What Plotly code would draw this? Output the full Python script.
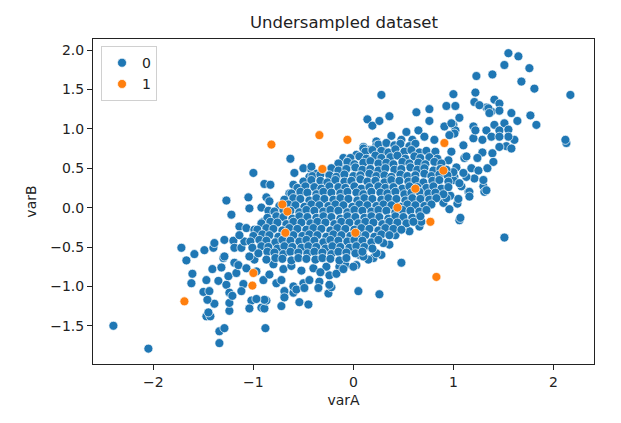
import plotly.graph_objects as go

# class 0, outer / sparse points
blue_sparse = [
    (1.55, 1.96), (1.65, 1.92), (1.51, 1.81), (1.76, 1.77), (1.23, 1.67), (1.39, 1.69), (1.68, 1.60),
    (1.81, 1.51), (2.17, 1.43), (0.28, 1.43), (1.00, 1.44), (1.22, 1.46), (1.21, 1.34), (0.93, 1.29),
    (1.02, 1.29), (0.76, 1.25), (0.63, 1.21), (0.36, 1.16), (0.14, 1.12), (0.19, 1.04), (0.26, 1.10),
    (0.76, 1.10), (0.91, 1.03), (1.00, 1.05), (1.06, 1.14), (1.41, 1.37), (1.46, 1.32), (1.33, 1.27),
    (1.26, 1.30), (1.38, 1.22), (1.46, 1.23), (1.58, 1.20), (1.77, 1.17), (1.83, 1.05), (1.64, 1.10),
    (1.51, 1.07), (1.41, 1.05), (1.33, 0.98), (1.20, 1.03), (1.29, 0.86), (1.20, 0.88), (1.38, 0.90),
    (1.46, 0.98), (1.55, 0.99), (1.61, 0.86), (1.53, 0.78), (1.46, 0.77), (1.39, 0.69), (1.29, 0.70),
    (1.24, 0.63), (1.40, 0.58), (1.34, 0.50), (1.21, 0.37), (1.30, 0.27), (1.31, 0.20), (1.11, 0.63),
    (1.10, 0.79), (1.13, 0.39), (1.18, 0.50), (1.03, 0.51), (1.01, 0.39), (1.08, 0.27), (1.15, 0.20),
    (2.13, 0.82), (2.12, 0.86), (0.53, 0.96), (0.65, 0.98), (0.48, 0.86), (0.23, 0.84), (0.30, 0.79),
    (0.10, 0.77), (0.16, 0.73), (1.35, 1.26), (1.36, 1.20), (1.22, 0.98), (1.02, 0.98), (0.98, 1.07),
    (1.01, 0.94), (0.96, 0.92), (1.55, 0.90), (1.46, 0.90), (1.58, 0.75), (0.59, 0.86), (0.71, 0.90),
    (0.81, 0.86), (0.38, 0.91), (0.98, 0.71), (1.13, 0.65), (1.00, 0.35), (1.10, 0.44), (1.16, 0.20),
    (0.95, 0.60), (1.00, 0.45), (0.97, 0.15), (1.04, 0.05), (1.06, 0.31), (1.30, 0.35), (1.33, 0.22),
    (1.16, 0.14), (1.25, 0.47),
    (0.96, -0.02), (1.05, 0.11), (0.90, 0.06), (0.93, 0.12), (1.06, -0.16), (1.07, -0.13), (0.56, -0.30),
    (0.66, -0.24), (0.68, -0.18), (0.55, -0.16), (0.64, 0.01), (0.53, 0.03), (0.78, 0.14), (0.70, 0.16),
    (1.51, -0.38), (0.48, -0.70), (0.05, -1.06), (0.26, -1.10), (0.28, -0.60), (0.20, -0.64),
    (0.36, -0.47), (0.30, -0.45), (0.42, -0.35), (0.48, -0.28), (0.06, -0.60), (0.03, -0.73),
    (-0.08, -0.73), (-0.14, -0.75),
    (-2.40, -1.50), (-2.05, -1.79), (-1.34, -1.72), (-1.34, -1.57), (-1.29, -1.53), (-0.88, -1.53),
    (-1.47, -1.38), (-1.43, -1.38), (-1.45, -1.33), (-1.24, -1.31), (-1.24, -1.21), (-1.39, -1.22),
    (-1.46, -1.17), (-1.50, -1.07), (-1.44, -1.06), (-1.62, -0.96), (-1.61, -0.84), (-1.67, -0.67),
    (-1.59, -0.59), (-1.72, -0.51), (-1.49, -0.54), (-1.40, -0.51), (-1.39, -0.45), (-1.29, -0.41),
    (-1.20, -0.42), (-1.47, -0.92), (-1.35, -0.93), (-1.27, -0.98), (-1.24, -1.08), (-1.21, -1.12),
    (-1.41, -0.78), (-1.32, -0.76), (-1.30, -0.64), (-1.25, -0.87), (-1.17, -0.83), (-1.10, -0.97),
    (-1.12, -1.06), (-1.02, -1.18), (-1.04, -1.28), (-0.92, -1.27), (-0.89, -1.28), (-0.87, -1.18),
    (-0.72, -1.25), (-0.69, -1.13), (-0.60, -1.08), (-0.54, -1.20), (-0.45, -1.23), (-0.25, -1.09),
    (-0.22, -1.01),
    (-1.27, 0.09), (-1.05, 0.13), (-0.87, 0.13), (-0.84, 0.08), (-1.22, -0.09), (-1.04, -0.01),
    (-0.92, 0.00), (-0.85, -0.04), (-1.14, -0.24), (-1.07, -0.26), (-0.99, -0.28), (-0.90, -0.18),
    (-1.29, -0.62), (-1.19, -0.70), (-1.15, -0.73), (-1.07, -0.77), (-0.99, -0.66), (-1.19, -0.51),
    (-1.12, -0.51), (-1.09, -0.43), (-1.04, -0.62), (-1.14, -0.35),
    (-0.97, -0.81), (-0.90, -0.92), (-0.84, -0.85), (-0.77, -0.96), (-0.72, -0.92), (-0.60, -1.00),
    (-0.69, -1.06), (-0.57, -1.04), (-0.50, -0.96), (-0.44, -0.92), (-0.34, -0.94), (-0.24, -0.98),
    (-0.49, -1.02), (-0.35, -1.02), (-0.24, -0.86), (-0.17, -0.84), (-0.27, -0.75), (0.00, -0.75),
    (0.15, -0.66), (0.23, -0.58), (-0.69, -1.14), (-0.89, -1.17), (-0.97, -1.16),
    (-0.80, -0.72), (-0.70, -0.78), (-0.62, -0.74), (-0.52, -0.80), (-0.40, -0.77), (-0.33, -0.82),
    (-0.10, -0.78), (0.10, -0.62),
    (-0.63, 0.62), (-1.00, 0.44), (-0.89, 0.30), (-0.83, 0.29), (-0.59, 0.44), (-0.50, 0.50),
    (-0.42, 0.48), (-0.44, 0.39), (-0.37, 0.43), (-0.24, 0.41), (-0.14, 0.52), (-0.10, 0.63),
    (-0.19, 0.39), (-0.60, 0.29), (-0.64, 0.18), (-0.54, 0.18), (-0.44, 0.31), (-0.37, 0.23),
    (-0.42, 0.52), (-0.14, 0.54), (-0.05, 0.60), (0.03, 0.67), (0.00, 0.52), (0.10, 0.75), (0.23, 0.79),
]

# class 0, dense middle of the cloud, row by row
blue_core = [
    (0.25, 0.80), (0.33, 0.82), (0.41, 0.79), (0.47, 0.81), (0.56, 0.78), (0.62, 0.81),
    (0.12, 0.71), (0.19, 0.73), (0.28, 0.72), (0.35, 0.70), (0.42, 0.74), (0.51, 0.71), (0.58, 0.73),
    (0.66, 0.70), (0.73, 0.72), (0.82, 0.71),
    (-0.03, 0.63), (0.06, 0.65), (0.13, 0.62), (0.22, 0.66), (0.28, 0.63), (0.37, 0.64), (0.44, 0.66),
    (0.52, 0.62), (0.61, 0.65), (0.67, 0.63), (0.76, 0.64), (0.84, 0.62),
    (-0.15, 0.56), (-0.06, 0.58), (0.01, 0.55), (0.10, 0.57), (0.17, 0.59), (0.25, 0.56), (0.33, 0.57),
    (0.40, 0.55), (0.49, 0.58), (0.56, 0.56), (0.65, 0.57), (0.72, 0.55), (0.81, 0.58), (0.88, 0.56),
    (-0.31, 0.48), (-0.22, 0.50), (-0.15, 0.47), (-0.07, 0.49), (0.02, 0.51), (0.09, 0.48), (0.17, 0.49),
    (0.25, 0.47), (0.32, 0.50), (0.41, 0.48), (0.48, 0.49), (0.57, 0.51), (0.64, 0.48), (0.71, 0.50),
    (0.80, 0.47), (0.87, 0.49), (0.93, 0.48),
    (-0.41, 0.40), (-0.33, 0.42), (-0.24, 0.41), (-0.17, 0.39), (-0.09, 0.42), (0.00, 0.40), (0.07, 0.41),
    (0.16, 0.43), (0.23, 0.40), (0.31, 0.41), (0.38, 0.39), (0.47, 0.42), (0.54, 0.40), (0.62, 0.41),
    (0.71, 0.43), (0.78, 0.40), (0.86, 0.42), (0.94, 0.41),
    (-0.50, 0.33), (-0.42, 0.35), (-0.33, 0.34), (-0.26, 0.32), (-0.18, 0.35), (-0.09, 0.33), (-0.02, 0.34),
    (0.07, 0.36), (0.14, 0.33), (0.22, 0.34), (0.31, 0.32), (0.38, 0.35), (0.46, 0.34), (0.55, 0.33),
    (0.62, 0.35), (0.70, 0.32), (0.79, 0.34), (0.86, 0.35), (0.95, 0.33),
    (-0.56, 0.25), (-0.48, 0.27), (-0.39, 0.26), (-0.32, 0.24), (-0.24, 0.27), (-0.15, 0.26), (-0.08, 0.25),
    (0.01, 0.27), (0.08, 0.24), (0.16, 0.26), (0.25, 0.27), (0.32, 0.25), (0.40, 0.26), (0.49, 0.24),
    (0.56, 0.27), (0.64, 0.26), (0.73, 0.25), (0.80, 0.27), (0.88, 0.24), (0.95, 0.26),
    (-0.62, 0.18), (-0.53, 0.20), (-0.46, 0.19), (-0.37, 0.17), (-0.30, 0.20), (-0.22, 0.19), (-0.13, 0.18),
    (-0.06, 0.20), (0.03, 0.19), (0.10, 0.17), (0.18, 0.20), (0.27, 0.19), (0.34, 0.18), (0.42, 0.20),
    (0.51, 0.17), (0.58, 0.19), (0.66, 0.20), (0.75, 0.18), (0.82, 0.19), (0.90, 0.17),
    (-0.69, 0.10), (-0.60, 0.12), (-0.53, 0.11), (-0.44, 0.09), (-0.37, 0.12), (-0.29, 0.11), (-0.20, 0.10),
    (-0.13, 0.12), (-0.05, 0.11), (0.04, 0.09), (0.11, 0.12), (0.19, 0.11), (0.28, 0.10), (0.35, 0.12),
    (0.43, 0.11), (0.52, 0.09), (0.59, 0.12), (0.67, 0.11), (0.76, 0.10), (0.83, 0.12),
    (-0.74, 0.02), (-0.65, 0.04), (-0.58, 0.03), (-0.49, 0.01), (-0.42, 0.04), (-0.34, 0.03), (-0.25, 0.02),
    (-0.18, 0.04), (-0.10, 0.03), (-0.01, 0.01), (0.06, 0.04), (0.14, 0.03), (0.23, 0.02), (0.30, 0.04),
    (0.38, 0.03), (0.47, 0.01), (0.54, 0.04), (0.62, 0.03), (0.71, 0.02), (0.78, 0.04),
    (-0.79, -0.05), (-0.70, -0.03), (-0.63, -0.04), (-0.54, -0.06), (-0.47, -0.03), (-0.39, -0.04),
    (-0.30, -0.05), (-0.23, -0.03), (-0.15, -0.04), (-0.06, -0.06), (0.01, -0.03), (0.09, -0.04),
    (0.18, -0.05), (0.25, -0.03), (0.33, -0.04), (0.42, -0.06), (0.49, -0.03), (0.57, -0.04),
    (0.66, -0.05), (0.73, -0.03),
    (-0.86, -0.13), (-0.77, -0.11), (-0.70, -0.12), (-0.61, -0.14), (-0.54, -0.11), (-0.46, -0.12),
    (-0.37, -0.13), (-0.30, -0.11), (-0.22, -0.12), (-0.13, -0.14), (-0.06, -0.11), (0.02, -0.12),
    (0.11, -0.13), (0.18, -0.11), (0.26, -0.12), (0.35, -0.14), (0.42, -0.11), (0.50, -0.12),
    (0.59, -0.13), (0.67, -0.11),
    (-0.92, -0.20), (-0.83, -0.18), (-0.76, -0.19), (-0.67, -0.21), (-0.60, -0.18), (-0.52, -0.19),
    (-0.43, -0.20), (-0.36, -0.18), (-0.28, -0.19), (-0.19, -0.21), (-0.12, -0.18), (-0.04, -0.19),
    (0.05, -0.20), (0.12, -0.18), (0.20, -0.19), (0.29, -0.21), (0.36, -0.18), (0.44, -0.19),
    (0.53, -0.20), (0.60, -0.18),
    (-0.96, -0.28), (-0.87, -0.26), (-0.80, -0.27), (-0.71, -0.29), (-0.64, -0.26), (-0.56, -0.27),
    (-0.47, -0.28), (-0.40, -0.26), (-0.32, -0.27), (-0.23, -0.29), (-0.16, -0.26), (-0.08, -0.27),
    (0.01, -0.28), (0.08, -0.26), (0.16, -0.27), (0.25, -0.29), (0.32, -0.26), (0.40, -0.27), (0.48, -0.28),
    (-1.00, -0.36), (-0.91, -0.34), (-0.84, -0.35), (-0.75, -0.37), (-0.68, -0.34), (-0.60, -0.35),
    (-0.51, -0.36), (-0.44, -0.34), (-0.36, -0.35), (-0.27, -0.37), (-0.20, -0.34), (-0.12, -0.35),
    (-0.03, -0.36), (0.04, -0.34), (0.12, -0.35), (0.21, -0.37), (0.28, -0.34), (0.36, -0.35),
    (-1.03, -0.43), (-0.94, -0.41), (-0.87, -0.42), (-0.78, -0.44), (-0.71, -0.41), (-0.63, -0.42),
    (-0.54, -0.43), (-0.47, -0.41), (-0.39, -0.42), (-0.30, -0.44), (-0.23, -0.41), (-0.15, -0.42),
    (-0.06, -0.43), (0.01, -0.41), (0.09, -0.42), (0.18, -0.44), (0.25, -0.41),
    (-1.01, -0.51), (-0.92, -0.49), (-0.85, -0.50), (-0.76, -0.52), (-0.69, -0.49), (-0.61, -0.50),
    (-0.52, -0.51), (-0.45, -0.49), (-0.37, -0.50), (-0.28, -0.52), (-0.21, -0.49), (-0.13, -0.50),
    (-0.04, -0.51), (0.03, -0.49), (0.11, -0.50), (0.19, -0.52),
    (-0.95, -0.58), (-0.86, -0.56), (-0.79, -0.57), (-0.70, -0.59), (-0.63, -0.56), (-0.55, -0.57),
    (-0.46, -0.58), (-0.39, -0.56), (-0.31, -0.57), (-0.22, -0.59), (-0.15, -0.56), (-0.07, -0.57),
    (0.02, -0.58), (0.09, -0.56),
    (-0.87, -0.66), (-0.78, -0.64), (-0.71, -0.65), (-0.62, -0.67), (-0.55, -0.64), (-0.47, -0.65),
    (-0.38, -0.66), (-0.31, -0.64), (-0.23, -0.65), (-0.14, -0.67), (-0.07, -0.64),
]

# class 1
orange_x = [-0.82, -0.34, -0.06, -0.31, -0.71, -0.66, -0.68, -1.00, -1.01, -1.69, 0.02, 0.44, 0.62, 0.91, 0.90, 0.77, 0.83]
orange_y = [0.80, 0.92, 0.86, 0.49, 0.04, -0.05, -0.32, -0.83, -0.99, -1.19, -0.32, 0.00, 0.24, 0.82, 0.47, -0.18, -0.88]

blue_pts = blue_sparse + blue_core
blue_x = [p[0] for p in blue_pts]
blue_y = [p[1] for p in blue_pts]

x_ticks = [-2, -1, 0, 1, 2]
y_ticks = [-1.5, -1.0, -0.5, 0.0, 0.5, 1.0, 1.5, 2.0]

mk = dict(size=9, line=dict(color="white", width=0.7))

fig = go.Figure()
fig.add_trace(go.Scatter(x=blue_x, y=blue_y, mode="markers", name="0",
                         marker=dict(color="#1f77b4", **mk)))
fig.add_trace(go.Scatter(x=orange_x, y=orange_y, mode="markers", name="1",
                         marker=dict(color="#ff7f0e", **mk)))

axis_style = dict(showline=True, linecolor="#222", linewidth=1, mirror=True, showgrid=False,
                  zeroline=False, ticks="outside", ticklen=5, tickcolor="#222",
                  tickfont=dict(size=14, color="#222"))

# the page body has an 8px margin, so the figure is a bit smaller than the window
fig.update_layout(
    width=613, height=415,
    margin=dict(l=85, r=27, t=31, b=59),
    paper_bgcolor="white", plot_bgcolor="white",
    font=dict(family="DejaVu Sans", color="#222"),
    title=dict(text="Undersampled dataset", x=0.548, xanchor="center", y=1 - 14 / 415,
               yanchor="middle", font=dict(size=16.5, color="#222")),
    xaxis=dict(range=[-2.604, 2.406], tickvals=x_ticks, title=dict(text="varA", font=dict(size=14), standoff=6),
               **axis_style),
    yaxis=dict(range=[-1.985, 2.14], tickvals=y_ticks, tickformat=".1f",
               title=dict(text="varB", font=dict(size=14), standoff=10), **axis_style),
    legend=dict(x=0.016, y=0.978, xanchor="left", yanchor="top", bgcolor="rgba(255,255,255,0.8)",
                bordercolor="#d0d0d0", borderwidth=1, font=dict(size=14)),
    showlegend=True,
)

fig.write_html("out.html")
